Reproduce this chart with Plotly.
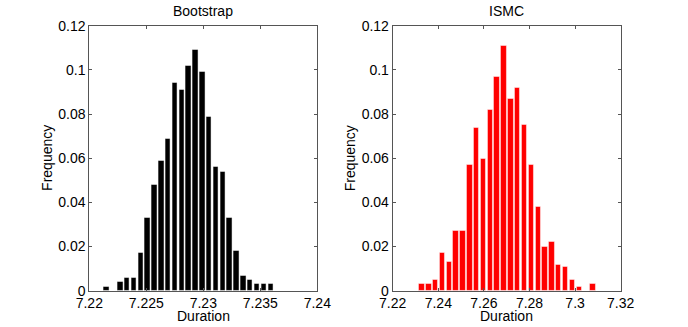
import plotly.graph_objects as go

# ---- data ----
boot_centers = [7.2215 + 0.0006 * k for k in range(25)]
boot_freq = [0.002, 0.0, 0.004, 0.006, 0.006, 0.017, 0.033, 0.048, 0.059, 0.069,
             0.094, 0.091, 0.102, 0.109, 0.099, 0.079, 0.056, 0.054, 0.033, 0.018,
             0.007, 0.005, 0.003, 0.003, 0.003]

ismc_centers = [7.2327 + 0.003 * k for k in range(26)]
ismc_freq = [0.003, 0.003, 0.005, 0.017, 0.013, 0.027, 0.027, 0.057, 0.074, 0.060,
             0.082, 0.097, 0.111, 0.087, 0.092, 0.075, 0.057, 0.038, 0.020, 0.022,
             0.012, 0.011, 0.005, 0.002, 0.0, 0.003]

boot_xticks = [7.22, 7.225, 7.23, 7.235, 7.24]
boot_xticktext = ["7.22", "7.225", "7.23", "7.235", "7.24"]
ismc_xticks = [7.22, 7.24, 7.26, 7.28, 7.30, 7.32]
ismc_xticktext = ["7.22", "7.24", "7.26", "7.28", "7.3", "7.32"]
yticks = [0, 0.02, 0.04, 0.06, 0.08, 0.10, 0.12]
yticktext = ["0", "0.02", "0.04", "0.06", "0.08", "0.1", "0.12"]

W, H = 688, 327
FONT = "Liberation Sans, Arial, sans-serif"

fig = go.Figure()
fig.add_trace(go.Bar(x=boot_centers, y=boot_freq, width=0.0006 * 0.8,
                     marker=dict(color="#000000", line=dict(color="#ffffff", width=0.5)),
                     xaxis="x", yaxis="y", showlegend=False))
fig.add_trace(go.Bar(x=ismc_centers, y=ismc_freq, width=0.003 * 0.8,
                     marker=dict(color="#ff0000", line=dict(color="#ffffff", width=0.5)),
                     xaxis="x2", yaxis="y2", showlegend=False))

# axes geometry in screen pixels
L1, R1 = 89.3, 317.3
L2, R2 = 392.7, 620.7
TOP, BOT = 25.7, 290.7

def px(x):
    return x / W

def py(y):
    return 1 - y / H

axcommon = dict(showline=True, linecolor="#555555", linewidth=1, mirror="allticks",
                ticks="inside", ticklen=3, tickcolor="#555555", showgrid=False,
                zeroline=False, automargin=False,
                tickfont=dict(family=FONT, size=14, color="#000000"))

fig.update_layout(
    width=W, height=H, autosize=False,
    margin=dict(l=0, r=0, t=0, b=0, pad=0),
    paper_bgcolor="white", plot_bgcolor="white",
    bargap=0,
    xaxis=dict(domain=[px(L1), px(R1)], range=[7.22, 7.24], tickvals=boot_xticks,
               ticktext=boot_xticktext, anchor="y", ticklabelstandoff=-1, **axcommon),
    yaxis=dict(domain=[py(BOT), py(TOP)], range=[0, 0.12], tickvals=yticks,
               ticktext=yticktext, anchor="x", **axcommon),
    xaxis2=dict(domain=[px(L2), px(R2)], range=[7.22, 7.32], tickvals=ismc_xticks,
                ticktext=ismc_xticktext, anchor="y2", ticklabelstandoff=-1, **axcommon),
    yaxis2=dict(domain=[py(BOT), py(TOP)], range=[0, 0.12], tickvals=yticks,
                ticktext=yticktext, anchor="x2", **axcommon),
)

def ann(text, x, y, angle=0):
    fig.add_annotation(text=text, x=px(x), y=py(y), xref="paper", yref="paper",
                       xanchor="center", yanchor="middle", showarrow=False,
                       textangle=angle, font=dict(family=FONT, size=14, color="#000000"))

ann("Bootstrap", (L1 + R1) / 2, 10.5)
ann("ISMC", (L2 + R2) / 2, 10.5)
ann("Duration", (L1 + R1) / 2, 316)
ann("Duration", (L2 + R2) / 2, 316)
ann("Frequency", 46.7, (TOP + BOT) / 2, -90)
ann("Frequency", L2 - 42.6, (TOP + BOT) / 2, -90)

fig.write_html("out.html", config={"displayModeBar": False},
               post_script="document.body.style.margin='0';")
